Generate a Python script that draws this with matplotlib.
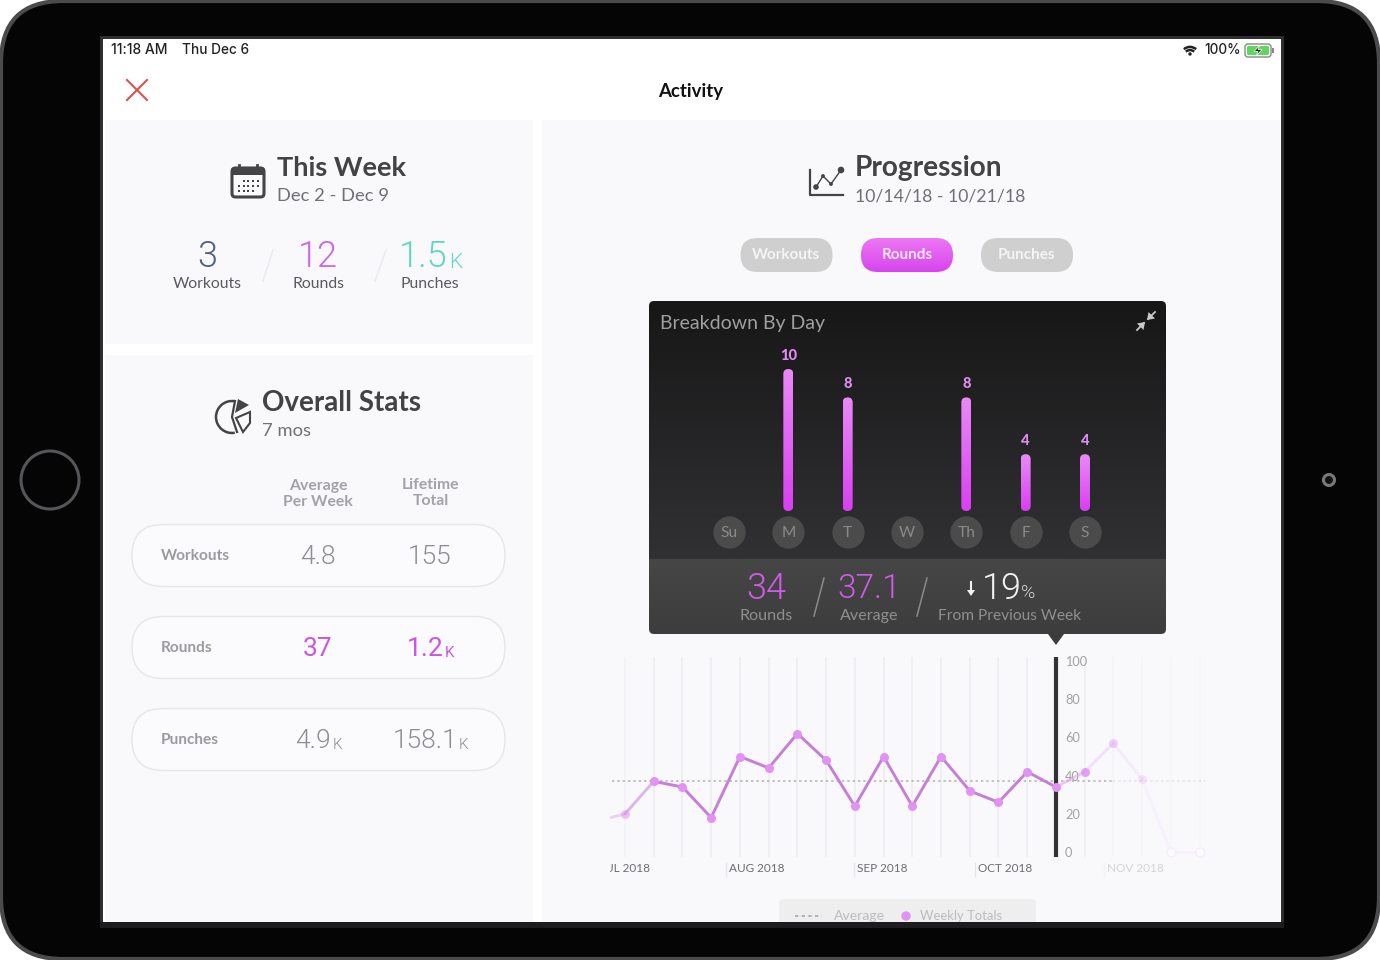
import matplotlib
matplotlib.use("Agg")
import matplotlib.pyplot as plt
import numpy as np
from matplotlib.colors import LinearSegmentedColormap
from matplotlib.patches import Arc, Circle, FancyBboxPatch, Polygon, Rectangle
from matplotlib.transforms import Bbox

W, H = 1380, 960

# weekly rounds, from the line chart
week_index = [-1, 0, 1, 2, 3, 4, 5, 6, 7, 8, 9, 10, 11, 12, 13, 14, 15, 16, 17, 18, 19, 20]
weekly_totals = [16, 20, 37, 34, 18, 50, 44, 62, 48, 24, 50, 24, 50, 32, 26, 42, 34, 42, 57, 38, 0, 0]
point_alpha = [0.0, 0.55, 1, 1, 1, 1, 1, 1, 1, 1, 1, 1, 1, 1, 1, 1, 1, 0.85, 0.4, 0.2, 0.08, 0.08]
average_rounds = 37.1
selected_week = 15
y_ticks = [0, 20, 40, 60, 80, 100]
month_labels = ["JUL 2018", "AUG 2018", "SEP 2018", "OCT 2018", "NOV 2018"]
month_pos = [-0.84, 3.65, 8.1, 12.3, 16.8]
month_alpha = [0.95, 0.95, 0.95, 0.95, 0.25]

# breakdown by day
days = ["Su", "M", "T", "W", "Th", "F", "S"]
day_rounds = [0, 10, 8, 0, 8, 4, 4]

# left column
week_stats = [("3", "", "Workouts", "#50627f"), ("12", "", "Rounds", "#cf66e8"), ("1.5", "K", "Punches", "#63d6c2")]
overall_rows = ["Workouts", "Rounds", "Punches"]
overall_avg = [("4.8", ""), ("37", ""), ("4.9", "K")]
overall_total = [("155", ""), ("1.2", "K"), ("158.1", "K")]
tabs = ["Workouts", "Rounds", "Punches"]

FONT = "Lato"
NUM = "Roboto"
LIGHT = 300
plt.rcParams["font.family"] = [FONT, "DejaVu Sans"]

fig = plt.figure(figsize=(W / 100, H / 100), dpi=100, facecolor="white")
ax = fig.add_axes([0, 0, 1, 1], zorder=0)
ax.set_axis_off()


def rrect(x0, y0, x1, y1, r, **kw):
    p = FancyBboxPatch((x0, y0), x1 - x0, y1 - y0,
                       boxstyle=f"round,pad=0,rounding_size={r}", **kw)
    ax.add_patch(p)
    return p


def grad(x0, y0, x1, y1, c_top, c_bot, clip=None, zorder=3):
    cm = LinearSegmentedColormap.from_list("g", [c_top, c_bot])
    im = ax.imshow(np.linspace(0, 1, 128)[:, None], cmap=cm, extent=(x0, x1, y1, y0),
                   aspect="auto", zorder=zorder, interpolation="bilinear")
    if clip is not None:
        im.set_clip_path(clip)
    return im


def txt(x, y, s, size, color="#444444", ha="center", weight="normal", zorder=6, **kw):
    return ax.text(x, y + 1, s, fontsize=size, color=color, ha=ha, va="center",
                   fontweight=weight, zorder=zorder, **kw)


def big_small(cx, y, big, small, size, color, weight=LIGHT):
    # number with a small K after it, centred as one unit
    t = txt(cx, y + 2, big, size, color, ha="center", weight=weight, family=NUM)
    if small:
        fig.canvas.draw()
        w_big = t.get_window_extent().width
        w_small = size * 0.5
        left = cx - (w_big + w_small) / 2
        t.set_x(left + w_big / 2)
        txt(left + w_big + 1, y + 2 + size * 0.2, small, size * 0.58, color, ha="left", weight=weight, family=NUM)


# device body
rrect(1, 1, 1379, 959, 62, fc="#050505", ec="#4b4b4d", lw=3, zorder=1)
ax.add_patch(Circle((50, 480), 29, fc="#050505", ec="#55565a", lw=2.2, zorder=2))
ax.add_patch(Circle((1329, 480), 5.5, fc="#111111", ec="#77787c", lw=2.2, zorder=2))

# screen
ax.add_patch(Rectangle((100, 36), 1184, 890, fc="#2e2e30", ec="none", zorder=2))
ax.add_patch(Rectangle((103, 39), 1178, 883, fc="white", ec="none", zorder=2))
panel = "#f9f9fc"
ax.add_patch(Rectangle((105, 120), 428, 224, fc=panel, ec="none", zorder=2.2))
ax.add_patch(Rectangle((105, 355), 428, 567, fc=panel, ec="none", zorder=2.2))
ax.add_patch(Rectangle((542, 120), 738, 802, fc=panel, ec="none", zorder=2.2))

# status bar
sb = "Inter"
txt(111, 49.5, "11:18 AM", 10, "#222222", ha="left", weight="medium", family=sb)
txt(182, 49.5, "Thu Dec 6", 9.8, "#222222", ha="left", weight="medium", family=sb)
txt(1241, 49.5, "100%", 9.8, "#222222", ha="right", weight="medium", family=sb)
for r, t1, t2 in [(13, 48, 132), (8.5, 46, 134)]:
    ax.add_patch(Arc((1190, 56), r * 1.4, r * 1.4, theta1=-t2, theta2=-t1, color="#222222", lw=1.8, zorder=6))
ax.add_patch(Circle((1190, 54), 1.7, fc="#222222", ec="none", zorder=6))
rrect(1245, 44, 1271, 57, 3, fc="white", ec="#888888", lw=1, zorder=6)
rrect(1247, 46, 1269, 55, 1.5, fc="#5ed75f", ec="none", zorder=6.1)
ax.add_patch(Rectangle((1272, 48), 2, 5, fc="#888888", ec="none", zorder=6))
ax.add_patch(Polygon([(1260, 45), (1254, 51.5), (1258, 51.5), (1256, 56), (1262, 49.5), (1258, 49.5)],
                     fc="#222222", ec="white", lw=0.5, zorder=6.2))

# nav bar
ax.plot([127, 147], [80, 100], color="#d9534f", lw=1.5, zorder=6)
ax.plot([147, 127], [80, 100], color="#d9534f", lw=1.5, zorder=6)
txt(691, 90, "Activity", 13.4, "#111111", weight="bold")

# this week
txt(277, 167, "This Week", 19.6, "#434345", ha="left", weight="bold")
txt(277, 195, "Dec 2 - Dec 9", 13.2, "#707074", ha="left")
rrect(232, 168, 264, 197, 3.5, fc="#fbfbfd", ec="#444446", lw=2.2, zorder=5)
ax.add_patch(Rectangle((232, 168), 32, 7, fc="#444446", ec="none", zorder=5))
for x in (239, 257):
    ax.plot([x, x], [165, 170], color="#444446", lw=2, zorder=5.1)
for row, y in enumerate((181, 186, 191)):
    for col in range(5):
        if row == 0 and col < 1 or row == 2 and col == 4:
            continue
        ax.add_patch(Rectangle((238 + col * 4.7, y - 1), 2, 2, fc="#444446", ec="none", zorder=5.1))

for cx, (big, small, lab, col) in zip((207, 318, 430), week_stats):
    big_small(cx, 254, big, small, 26, col)
    txt(cx, 283, lab, 11.3, "#5a5a5e")
for xa, xb in ((263, 273), (375, 386)):
    ax.plot([xa, xb], [281, 250], color="#eaeaf0", lw=1.1, zorder=5)

# overall stats
txt(262, 402, "Overall Stats", 20, "#434345", ha="left", weight="bold")
txt(262, 430, "7 mos", 13.2, "#707074", ha="left")
ax.add_patch(Arc((232, 417), 32, 32, theta1=80, theta2=280, color="#444446", lw=1.8, zorder=5))
ax.plot([235, 232, 237], [401, 417, 432], color="#444446", lw=1.6, zorder=5)
ax.add_patch(Polygon([(238, 399), (249, 405), (235, 413)], fc="#444446", ec="none", zorder=5))
ax.add_patch(Polygon([(236, 418), (250, 412), (250, 423), (243, 432)], fc="none", ec="#444446", lw=1.5, zorder=5))

txt(318, 485, "Average", 11.3, "#a3a3a7", weight="bold")
txt(318, 501, "Per Week", 11.3, "#a3a3a7", weight="bold")
txt(430.5, 484, "Lifetime", 11.3, "#a3a3a7", weight="bold")
txt(430.5, 500, "Total", 11.3, "#a3a3a7", weight="bold")
for i, y in enumerate((555.5, 647.5, 739.5)):
    rrect(132, y - 31, 505, y + 31, 31, fc="#fbfbfd", ec="#e6e6ea", lw=1, zorder=3)
    txt(161, y - 1, overall_rows[i], 11.1, "#9b9b9f", ha="left", weight="bold")
    col = "#cb55e4" if i == 1 else "#8e8e92"
    wt = "normal" if i == 1 else LIGHT
    big_small(318, y - 1, overall_avg[i][0], overall_avg[i][1], 19, col, wt)
    big_small(430, y - 1, overall_total[i][0], overall_total[i][1], 19, col, wt)

# progression header
txt(855, 167, "Progression", 20.2, "#434345", ha="left", weight="bold")
txt(855, 195, "10/14/18 - 10/21/18", 12.7, "#707074", ha="left")
ax.plot([810, 810, 843], [170, 195, 195], color="#444446", lw=1.6, zorder=5)
ax.plot([816, 823, 831, 841], [187, 176, 184, 170], color="#444446", lw=1, zorder=5)
ax.scatter([816, 823, 831, 841], [187, 176, 184, 170], s=[9, 3, 3, 14], color="#444446", zorder=5)

# tabs
for lab, cx in zip(tabs, (786.5, 907, 1027)):
    x0, x1 = cx - 46, cx + 46
    if lab == "Rounds":
        p = rrect(x0, 238, x1, 272, 17, fc="none", ec="none", zorder=4)
        grad(x0, 238, x1, 272, "#ec78f2", "#d744ee", clip=p, zorder=4)
    else:
        rrect(x0, 238, x1, 272, 17, fc="#cfcfcf", ec="none", zorder=4)
    txt(cx, 254, lab, 11, "#f4f4f6" if lab != "Rounds" else "#fbe9fd", weight="bold")

# breakdown panel
clip_p = rrect(649, 301, 1166, 634, 5, fc="none", ec="none", zorder=3)
grad(649, 301, 1166, 559, "#171718", "#313133", clip=clip_p, zorder=3)
grad(649, 559, 1166, 634, "#464647", "#3d3d3e", clip=clip_p, zorder=3.1)
ax.add_patch(Polygon([(1048, 634), (1064, 634), (1056, 645)], fc="#3c3c3d", ec="none", zorder=3))
txt(660, 323, "Breakdown By Day", 14, "#a0a0a0", ha="left")
for (x0, y0, x1, y1) in [(1137, 330, 1144, 323), (1155, 312, 1148, 319)]:
    ax.plot([x0, x1], [y0, y1], color="#c8c8c8", lw=1.3, zorder=6)
ax.add_patch(Polygon([(1145, 322), (1137, 323.5), (1143.5, 330)], fc="#c8c8c8", ec="none", zorder=6))
ax.add_patch(Polygon([(1147, 320), (1155, 318.5), (1148.5, 312)], fc="#c8c8c8", ec="none", zorder=6))

txt(766, 588, "34", 26, "#cf5be8", weight=LIGHT, family=NUM)
txt(766, 615, "Rounds", 11.6, "#8f8f8f")
txt(869, 588, "37.1", 24, "#cf5be8", weight=LIGHT, family=NUM)
txt(869, 615, "Average", 11.6, "#8f8f8f")
for xa, xb in ((814, 824), (917, 927)):
    ax.plot([xa, xb], [616, 578], color="#8b8b8b", lw=1.1, zorder=6)
ax.plot([971, 971], [582, 591], color="#f2f2f2", lw=1.5, zorder=6)
ax.add_patch(Polygon([(967, 590), (975, 590), (971, 596)], fc="#f2f2f2", ec="none", zorder=6))
txt(982, 588, "19", 26, "#f2f2f2", ha="left", weight=LIGHT, family=NUM)
txt(1021, 592, "%", 14, "#d8d8d8", ha="left", weight=LIGHT, family=NUM)
txt(1010, 615, "From Previous Week", 11.2, "#8f8f8f")

# legend, cut off by the bottom of the screen
rrect(779, 899, 1036, 940, 5, fc="#eeeeef", ec="none", zorder=3)
ax.plot([795, 822], [915.5, 915.5], color="#a8a8a8", lw=1.2, ls=(0, (2, 2)), zorder=5)
txt(834, 915, "Average", 10.1, "#bcbcbc", ha="left")
ax.add_patch(Circle((906, 916), 4.7, fc="#e291f4", ec="none", zorder=5))
txt(920, 915, "Weekly Totals", 9.4, "#bcbcbc", ha="left")
ax.add_patch(Rectangle((100, 922), 1184, 6, fc="#1c1c1e", ec="none", zorder=7))
ax.add_patch(Rectangle((100, 928), 1184, 12, fc="#050505", ec="none", zorder=7))

ax.set_xlim(0, W)
ax.set_ylim(H, 0)


def px_axes(x0, y0, x1, y1, zorder):
    a = fig.add_axes([x0 / W, 1 - y1 / H, (x1 - x0) / W, (y1 - y0) / H], zorder=zorder)
    a.patch.set_alpha(0)
    for s in a.spines.values():
        s.set_visible(False)
    return a


# bar chart
bx = px_axes(649, 340, 1166, 552, 5)
px_per_day = 59.33
px_per_round = 14.2
bx.set_xticks([])
bx.set_yticks([])
bar_cm = LinearSegmentedColormap.from_list("bar", ["#e98af8", "#d93ff2"])
bar_w = 10 / px_per_day
for i, v in enumerate(day_rounds):
    bx.scatter([i], [-1.48], s=540, color="#4b4b4c", linewidths=0, zorder=2, clip_on=False)
    bx.text(i, -1.55, days[i], ha="center", va="center", fontsize=11.2, color="#8a8a8a", zorder=3)
    if v == 0:
        continue
    bar = FancyBboxPatch((i - bar_w / 2, 0), bar_w, v,
                         boxstyle=f"round,pad=0,rounding_size={bar_w / 2}",
                         mutation_aspect=px_per_day / px_per_round, fc="none", ec="none")
    bx.add_patch(bar)
    im = bx.imshow(np.linspace(0, 1, 128)[:, None], cmap=bar_cm, extent=(i - bar_w / 2, i + bar_w / 2, 0, v),
                   aspect="auto", interpolation="bilinear", zorder=2)
    im.set_clip_path(bar)
    bx.text(i, v + 0.92, str(v), ha="center", va="center", fontsize=10.6, fontweight=900, color="#e08cf2")
bx.set_xlim((649 - 729) / px_per_day, (1166 - 729) / px_per_day)
bx.set_ylim((511 - 552) / px_per_round, (511 - 340) / px_per_round)

# line chart
lx = px_axes(610, 657, 1206, 857, 4)
px_per_week = 28.73
lx.set_xlim((610 - 625) / px_per_week, (1206 - 625) / px_per_week)
lx.set_ylim((852 - 857) / 1.91, (852 - 657) / 1.91)
lx.set_xticks([])
lx.yaxis.tick_right()
lx.set_yticks(y_ticks)
lx.set_yticklabels([str(t) for t in y_ticks])
lx.tick_params(axis="y", length=0, pad=-(1206 - 1065) * 0.72, labelsize=9.2, labelcolor="#a2a2a2")
for lb in lx.get_yticklabels():
    lb.set_ha("left")

for wk, al in zip(week_index[1:], point_alpha[1:]):
    lx.axvline(wk, color="#eeeef2", lw=1.2, alpha=max(al, 0.3), zorder=1)
lx.hlines(average_rounds, -0.45, 17, color="#b0b0b0", lw=1.1, ls=(0, (1.5, 2)), zorder=2)
lx.hlines(average_rounds, 17, 20.2, color="#b0b0b0", lw=1.1, ls=(0, (1.5, 2)), alpha=0.3, zorder=2)
lx.axvline(selected_week, color="#333335", lw=3, zorder=3)
for i in range(len(week_index) - 1):
    seg_alpha = min(point_alpha[i], point_alpha[i + 1]) if i > 0 else 0.3
    if i + 1 > 16:
        seg_alpha = point_alpha[i + 1] * 0.6 + 0.03
    col = "#c67fd8" if i < 16 else "#e49df2"
    lx.plot(week_index[i:i + 2], weekly_totals[i:i + 2], color=col, lw=2.1, alpha=seg_alpha, zorder=4,
            solid_capstyle="round")
for wk, v, al in zip(week_index[1:], weekly_totals[1:], point_alpha[1:]):
    lx.scatter([wk], [v], s=42, color="#e291f4", alpha=al, linewidths=0, zorder=5, clip_on=False)
lx.scatter(week_index[-2:], weekly_totals[-2:], s=42, facecolors="#fbfbfd", edgecolors="#f6eef8", linewidths=1,
           zorder=6, clip_on=False)

# month labels sit under the plot area, only cut at its left edge
label_clip = Bbox([[610, 0], [W, H]])
for lab, pos, al in zip(month_labels, month_pos, month_alpha):
    t = lx.text(pos - 0.02, -8.7, lab, fontsize=8.5, color="#66666a", alpha=al, ha="left", va="center", clip_on=True)
    t.set_clip_box(label_clip)
    if pos >= 0:
        lx.plot([pos - 0.12, pos - 0.12], [-12.5, -5.5], color="#e4e4e8", lw=1, alpha=al, clip_on=False)

fig.savefig("out.png", dpi=100)
